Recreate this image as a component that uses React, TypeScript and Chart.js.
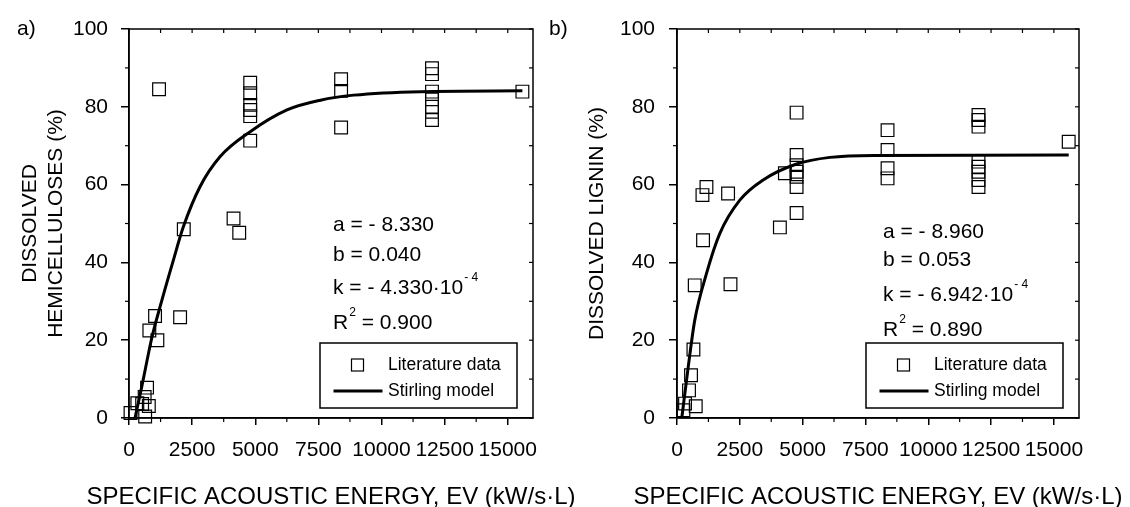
import { useEffect, useRef } from 'react';
import { Chart, registerables } from 'chart.js';

Chart.register(...registerables);

const FONT = "'Liberation Sans', Arial, Helvetica, sans-serif";

// Axis ticks
const X_TICKS = [0, 2500, 5000, 7500, 10000, 12500, 15000];
const X_MINOR = [1250, 3750, 6250, 8750, 11250, 13750];
const Y_TICKS = [0, 20, 40, 60, 80, 100];
const Y_MINOR = [10, 30, 50, 70, 90];
const X_TITLE = 'SPECIFIC ACOUSTIC ENERGY, EV (kW/s·L)';

// Legend labels
const DATA_LABEL = 'Literature data';
const MODEL_LABEL = 'Stirling model';

// Panel a) hemicelluloses – literature data
const HEMI_X = [60, 330, 520, 620, 640, 715, 785, 806, 1032, 1124, 1190, 2024, 2170, 4140, 4365,
  4800, 4800, 4800, 4800, 4800, 4800, 8400, 8400, 8400,
  12000, 12000, 12000, 12000, 12000, 12000, 12000, 15580];
const HEMI_Y = [1.3, 3.8, 3.6, 5.4, 0.4, 7.8, 3.1, 22.5, 26.2, 20.0, 84.5, 25.9, 48.5, 51.3, 47.6,
  71.3, 77.6, 79.2, 80.5, 83.5, 86.2, 74.7, 84.1, 87.1,
  76.6, 78.7, 80.0, 81.9, 83.9, 88.4, 89.9, 83.9];
// Panel a) model curve
const HEMI_MODEL_X = [238, 504, 900, 1230, 1758, 2156, 2817, 3611, 4800, 6257, 7579, 8900, 11547, 15580];
const HEMI_MODEL_Y = [0, 8, 20.5, 28.6, 40.6, 49.2, 59.5, 67.2, 73.6, 79.2, 81.7, 83.0, 83.9, 84.1];

// Panel b) lignin – literature data
const LIG_X = [255, 319, 478, 558, 654, 746, 706, 1013, 1172, 1037, 2033, 2129, 4095, 4294,
  4760, 4760, 4760, 4760, 4760, 4760, 4760, 8380, 8380, 8380, 8380,
  12000, 12000, 12000, 12000, 12000, 12000, 12000, 12000, 15590];
const LIG_Y = [2.0, 3.7, 7.1, 11.0, 17.6, 3.0, 34.1, 57.3, 59.4, 45.7, 57.7, 34.4, 49.0, 62.9,
  78.5, 67.6, 65.0, 63.3, 62.0, 59.4, 52.7, 74.0, 68.9, 64.2, 61.6,
  77.9, 76.6, 74.9, 65.9, 64.6, 63.3, 61.2, 59.4, 71.0];
// Panel b) model curve
const LIG_MODEL_X = [190, 440, 706, 1172, 1702, 2500, 3429, 4760, 6088, 8000, 15590];
const LIG_MODEL_Y = [0, 12.8, 25.1, 37.1, 47.4, 56.0, 61.2, 65.3, 67.0, 67.5, 67.6];

// Fitted-parameter annotations
type Part = { t: string; sup?: boolean };
const HEMI_ANNOT: Part[][] = [
  [{ t: 'a = - 8.330' }],
  [{ t: 'b = 0.040' }],
  [{ t: 'k = - 4.330·10' }, { t: '- 4', sup: true }],
  [{ t: 'R' }, { t: '2', sup: true }, { t: ' = 0.900' }],
];
const LIG_ANNOT: Part[][] = [
  [{ t: 'a = - 8.960' }],
  [{ t: 'b = 0.053' }],
  [{ t: 'k = - 6.942·10' }, { t: '- 4', sup: true }],
  [{ t: 'R' }, { t: '2', sup: true }, { t: ' = 0.890' }],
];

type Panel = {
  label: string;
  yTitle: string | string[];
  xs: number[]; ys: number[]; mx: number[]; my: number[];
  annot: Part[][];
  left: number; width: number; yAxisWidth: number; padRight: number;
  yTitlePad: number; yTickPad: number; labelX: number;
  annotDx: number; annotDy: number[];
};

const PANELS: Panel[] = [
  {
    label: 'a)', yTitle: ['DISSOLVED', 'HEMICELLULOSES (%)'],
    xs: HEMI_X, ys: HEMI_Y, mx: HEMI_MODEL_X, my: HEMI_MODEL_Y, annot: HEMI_ANNOT,
    left: 0, width: 600, yAxisWidth: 129, padRight: 67, yTitlePad: 17, yTickPad: 13, labelX: 17,
    annotDx: 204, annotDy: [196, 226, 259, 294],
  },
  {
    label: 'b)', yTitle: 'DISSOLVED LIGNIN (%)',
    xs: LIG_X, ys: LIG_Y, mx: LIG_MODEL_X, my: LIG_MODEL_Y, annot: LIG_ANNOT,
    left: 540, width: 590, yAxisWidth: 137, padRight: 51, yTitlePad: 44, yTickPad: 14, labelX: 9,
    annotDx: 206, annotDy: [203, 231, 266, 301],
  },
];

function makeDecor(p: Panel) {
  return {
    id: 'decor',
    afterDraw(chart: any) {
      const { ctx, chartArea: ca } = chart;
      const xs = chart.scales.x;
      const ys = chart.scales.y;
      const seg = (x1: number, y1: number, x2: number, y2: number) => {
        ctx.beginPath(); ctx.moveTo(x1, y1); ctx.lineTo(x2, y2); ctx.stroke();
      };
      ctx.save();
      ctx.strokeStyle = '#000';
      ctx.fillStyle = '#000';
      ctx.lineWidth = 1.5;
      ctx.strokeRect(ca.left, ca.top, ca.right - ca.left, ca.bottom - ca.top);
      ctx.lineWidth = 1.2;
      for (const v of X_MINOR) { const px = xs.getPixelForValue(v); seg(px, ca.bottom, px, ca.bottom + 4); }
      for (const v of Y_MINOR) { const py = ys.getPixelForValue(v); seg(ca.left - 4, py, ca.left, py); }
      for (const v of [...X_TICKS, ...X_MINOR]) { const px = xs.getPixelForValue(v); seg(px, ca.top, px, ca.top + 4); }
      for (const v of [...Y_TICKS, ...Y_MINOR]) { const py = ys.getPixelForValue(v); seg(ca.right - 4, py, ca.right, py); }

      // x-axis title (drawn here so it is not squeezed to the chart-area width)
      ctx.textBaseline = 'middle';
      ctx.textAlign = 'center';
      ctx.font = `24px ${FONT}`;
      ctx.fillText(X_TITLE, (ca.left + ca.right) / 2, 497);

      // annotation
      ctx.textAlign = 'left';
      p.annot.forEach((line, i) => {
        let x = ca.left + p.annotDx;
        const y = ca.top + p.annotDy[i];
        for (const part of line) {
          if (part.sup) {
            ctx.font = `12px ${FONT}`;
            ctx.fillText(part.t, x + 1, y - 10.5);
            x += ctx.measureText(part.t).width + 1;
          } else {
            ctx.font = `21px ${FONT}`;
            ctx.fillText(part.t, x, y);
            x += ctx.measureText(part.t).width;
          }
        }
      });

      // legend
      const bw = 197, bh = 65;
      const bx = ca.right - 16 - bw;
      const by = ca.bottom - 10 - bh;
      ctx.fillStyle = '#fff';
      ctx.fillRect(bx, by, bw, bh);
      ctx.fillStyle = '#000';
      ctx.lineWidth = 1.5;
      ctx.strokeRect(bx, by, bw, bh);
      ctx.lineWidth = 1.2;
      ctx.strokeRect(bx + 37.5 - 6, by + 22 - 6, 12, 12);
      ctx.lineWidth = 3;
      seg(bx + 13.5, by + 48, bx + 62.5, by + 48);
      ctx.font = `17.5px ${FONT}`;
      ctx.fillText(chart.data.datasets[0].label, bx + 68, by + 22);
      ctx.fillText(chart.data.datasets[1].label, bx + 68, by + 48);

      // panel label
      ctx.font = `21px ${FONT}`;
      ctx.fillText(p.label, p.labelX, 29);
      ctx.restore();
    },
  };
}

function ChartPanel({ p }: { p: Panel }) {
  const ref = useRef<HTMLCanvasElement | null>(null);
  useEffect(() => {
    if (!ref.current) return;
    const chart = new Chart(ref.current, {
      type: 'scatter',
      data: {
        datasets: [
          {
            label: DATA_LABEL,
            data: p.xs.map((x, i) => ({ x, y: p.ys[i] })),
            pointStyle: 'rect',
            pointRadius: 9,
            borderWidth: 1.2,
            borderColor: '#000',
            backgroundColor: 'rgba(0,0,0,0)',
            clip: false,
            order: 1,
          } as any,
          {
            label: MODEL_LABEL,
            data: p.mx.map((x, i) => ({ x, y: p.my[i] })),
            showLine: true,
            pointRadius: 0,
            borderWidth: 3,
            borderColor: '#000',
            backgroundColor: '#000',
            cubicInterpolationMode: 'monotone',
            clip: false,
            order: 0,
          } as any,
        ],
      },
      options: {
        responsive: false,
        animation: false,
        events: [],
        layout: { padding: { left: 0, right: p.padRight, top: 29, bottom: 0 } },
        plugins: { legend: { display: false }, tooltip: { enabled: false }, title: { display: false } },
        scales: {
          x: {
            type: 'linear', position: 'bottom', min: 0, max: 16000,
            afterFit: (s: any) => { s.height = 89; },
            afterBuildTicks: (s: any) => { s.ticks = X_TICKS.map((v) => ({ value: v })); },
            ticks: {
              autoSkip: false, maxRotation: 0, minRotation: 0, color: '#000', padding: 13,
              font: { size: 21, family: FONT }, callback: (v: any) => String(v),
            },
            grid: { display: true, drawOnChartArea: false, drawTicks: true, tickLength: 7, color: '#000', lineWidth: 1.5 },
            border: { display: true, color: '#000', width: 1.5 },
            title: { display: false, text: X_TITLE },
          },
          y: {
            type: 'linear', position: 'left', min: 0, max: 100,
            afterFit: (s: any) => { s.width = p.yAxisWidth; },
            afterBuildTicks: (s: any) => { s.ticks = Y_TICKS.map((v) => ({ value: v })); },
            ticks: {
              autoSkip: false, color: '#000', padding: p.yTickPad,
              font: { size: 21, family: FONT }, callback: (v: any) => String(v),
            },
            grid: { display: true, drawOnChartArea: false, drawTicks: true, tickLength: 8, color: '#000', lineWidth: 1.5 },
            border: { display: true, color: '#000', width: 1.5 },
            title: {
              display: true, text: p.yTitle, color: '#000',
              font: { size: 21, family: FONT, lineHeight: 1.25 },
              padding: { top: p.yTitlePad, bottom: 0 },
            },
          },
        },
      } as any,
      plugins: [makeDecor(p)],
    });
    return () => chart.destroy();
  }, [p]);
  return (
    <canvas
      ref={ref}
      width={p.width}
      height={507}
      style={{ position: 'absolute', left: p.left, top: 0, width: p.width, height: 507 }}
    />
  );
}

export default function App() {
  return (
    <div style={{ position: 'absolute', left: 0, top: 0, width: 1130, height: 507, background: '#fff' }}>
      {PANELS.map((p) => (
        <ChartPanel key={p.label} p={p} />
      ))}
    </div>
  );
}
